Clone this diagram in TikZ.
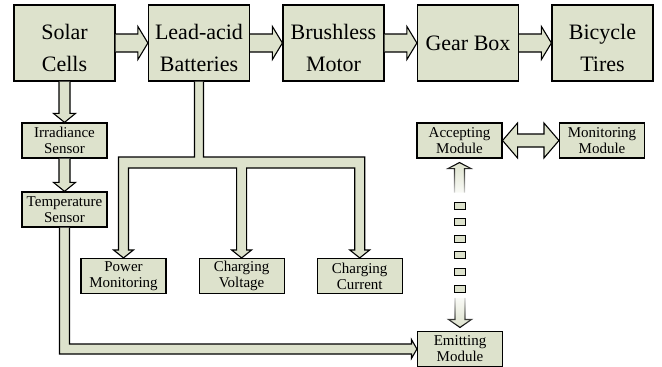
\documentclass[tikz,border=0pt]{standalone}
\usepackage{fontspec}
\setmainfont{Liberation Serif}
\usetikzlibrary{positioning, calc, fadings}
\definecolor{boxfill}{HTML}{DDE2CC}
\tikzfading[name=tailfade, top color=transparent!0, middle color=transparent!15, bottom color=transparent!85]
\tikzfading[name=tailfadedown, top color=transparent!85, middle color=transparent!15, bottom color=transparent!0]
\newcommand{\rightblock}[2]{%
  \path[pipe] let \p1=(#1.east), \p2=(#2.west) in
    (\x1,\y1+9pt) -- (\x2-10pt,\y1+9pt) -- (\x2-10pt,\y1+16.5pt) -- (\x2,\y1)
    -- (\x2-10pt,\y1-16.5pt) -- (\x2-10pt,\y1-9pt) -- (\x1,\y1-9pt);}
\newcommand{\downblock}[2]{%
  \path[pipe] let \p1=(#1.south), \p2=(#2.north) in
    (\x1-5.5pt,\y1) -- (\x1-5.5pt,\y2+9pt) -- (\x1-11pt,\y2+9pt) -- (\x1,\y2)
    -- (\x1+11pt,\y2+9pt) -- (\x1+5.5pt,\y2+9pt) -- (\x1+5.5pt,\y1);}

\begin{document}
\begin{tikzpicture}[x=1pt, y=1pt,
  node distance=32.3pt,
  bigbox/.style={rectangle, draw=black, line width=1.2pt, fill=boxfill, minimum width=101pt, minimum height=76pt, align=center, font=\fontsize{22}{32}\selectfont},
  twoline/.style={text height=57pt, text depth=0pt},
  smallbox/.style={rectangle, draw=black, line width=1.1pt, fill=boxfill, minimum width=85pt, minimum height=35pt, inner sep=1pt, align=center, font=\fontsize{15}{16}\selectfont},
  pipe/.style={draw=black, line width=1.1pt, fill=boxfill, line join=miter},
  dot/.style={draw=black, line width=0.8pt, fill=boxfill}
]
  \useasboundingbox (0,0) rectangle (662,-367);
  \node[bigbox, twoline] (solar) at (64.5,-43) {Solar\\Cells};
  \node[bigbox, twoline, right=of solar] (battery) {Lead-acid\\Batteries};
  \node[bigbox, twoline, right=of battery] (motor) {Brushless\\Motor};
  \node[bigbox, right=of motor] (gearbox) {Gear Box};
  \node[bigbox, twoline, right=of gearbox] (tires) {Bicycle\\Tires};
  \node[smallbox, below=40.8pt of solar] (irrad) {Irradiance\\Sensor};
  \node[smallbox, below=32.9pt of irrad] (temp) {Temperature\\Sensor};
  \node[smallbox] (power) at (123.5,-276) {Power\\Monitoring};
  \node[smallbox, right=32pt of power] (chvolt) {Charging\\Voltage};
  \node[smallbox, right=32pt of chvolt] (chcurr) {Charging\\Current};
  \node[smallbox] (accept) at (459.5,-140.5) {Accepting\\Module};
  \node[smallbox, right=56.4pt of accept] (monitor) {Monitoring\\Module};
  \node[smallbox] (emit) at (460,-349) {Emitting\\Module};
  \coordinate (bus) at (241,-162.5);

  \rightblock{solar}{battery}
  \rightblock{battery}{motor}
  \rightblock{motor}{gearbox}
  \rightblock{gearbox}{tires}
  \downblock{solar}{irrad}
  \downblock{irrad}{temp}

  \path[pipe] let \p0=(battery.south), \p1=(power.north), \p2=(chvolt.north), \p3=(chcurr.north), \p4=(bus) in
    (\x0-4.5pt,\y0) -- (\x0-4.5pt,\y4+5.5pt) -- (\x1-5pt,\y4+5.5pt)
    -- (\x1-5pt,\y1+8pt) -- (\x1-10pt,\y1+8pt) -- (\x1,\y1) -- (\x1+10pt,\y1+8pt) -- (\x1+5pt,\y1+8pt)
    -- (\x1+5pt,\y4-5.5pt) -- (\x2-5pt,\y4-5.5pt)
    -- (\x2-5pt,\y2+8pt) -- (\x2-10pt,\y2+8pt) -- (\x2,\y2) -- (\x2+10pt,\y2+8pt) -- (\x2+5pt,\y2+8pt)
    -- (\x2+5pt,\y4-5.5pt) -- (\x3-5pt,\y4-5.5pt)
    -- (\x3-5pt,\y3+8pt) -- (\x3-10pt,\y3+8pt) -- (\x3,\y3) -- (\x3+10pt,\y3+8pt) -- (\x3+5pt,\y3+8pt)
    -- (\x3+5pt,\y4+5.5pt) -- (\x0+4.5pt,\y4+5.5pt) -- (\x0+4.5pt,\y0);

  \path[pipe] let \p1=(temp.south), \p2=(emit.west) in
    (\x1-5pt,\y1) -- (\x1-5pt,\y2-5pt) -- (\x2-5.5pt,\y2-5pt) -- (\x2-5.5pt,\y2-9.5pt) -- (\x2,\y2)
    -- (\x2-5.5pt,\y2+9.5pt) -- (\x2-5.5pt,\y2+5pt) -- (\x1+5pt,\y2+5pt) -- (\x1+5pt,\y1);

  \path[pipe] let \p1=(accept.east), \p2=(monitor.west) in
    (\x1,\y1) -- (\x1+15pt,\y1+17.5pt) -- (\x1+15pt,\y1+6.5pt) -- (\x2-15pt,\y1+6.5pt) -- (\x2-15pt,\y1+17.5pt)
    -- (\x2,\y1) -- (\x2-15pt,\y1-17.5pt) -- (\x2-15pt,\y1-6.5pt) -- (\x1+15pt,\y1-6.5pt) -- (\x1+15pt,\y1-17.5pt) -- cycle;

  \path[pipe, path fading=tailfade] let \p1=(accept.south) in
    (\x1-5pt,\y1-34pt) -- (\x1-5pt,\y1-10pt) -- (\x1-11.5pt,\y1-10pt) -- (\x1,\y1-4pt)
    -- (\x1+11.5pt,\y1-10pt) -- (\x1+5pt,\y1-10pt) -- (\x1+5pt,\y1-34pt);
  \foreach \i in {0,...,5}
    \draw[dot] ($(accept.south)+(-5.5,-43.5-16.6*\i)$) rectangle +(11,-7);
  \path[pipe, path fading=tailfadedown] let \p1=(emit.north) in
    (\x1-5pt,\y1+33pt) -- (\x1-5pt,\y1+11.5pt) -- (\x1-11.5pt,\y1+11.5pt) -- (\x1,\y1+3.5pt)
    -- (\x1+11.5pt,\y1+11.5pt) -- (\x1+5pt,\y1+11.5pt) -- (\x1+5pt,\y1+33pt);
\end{tikzpicture}
\end{document}
